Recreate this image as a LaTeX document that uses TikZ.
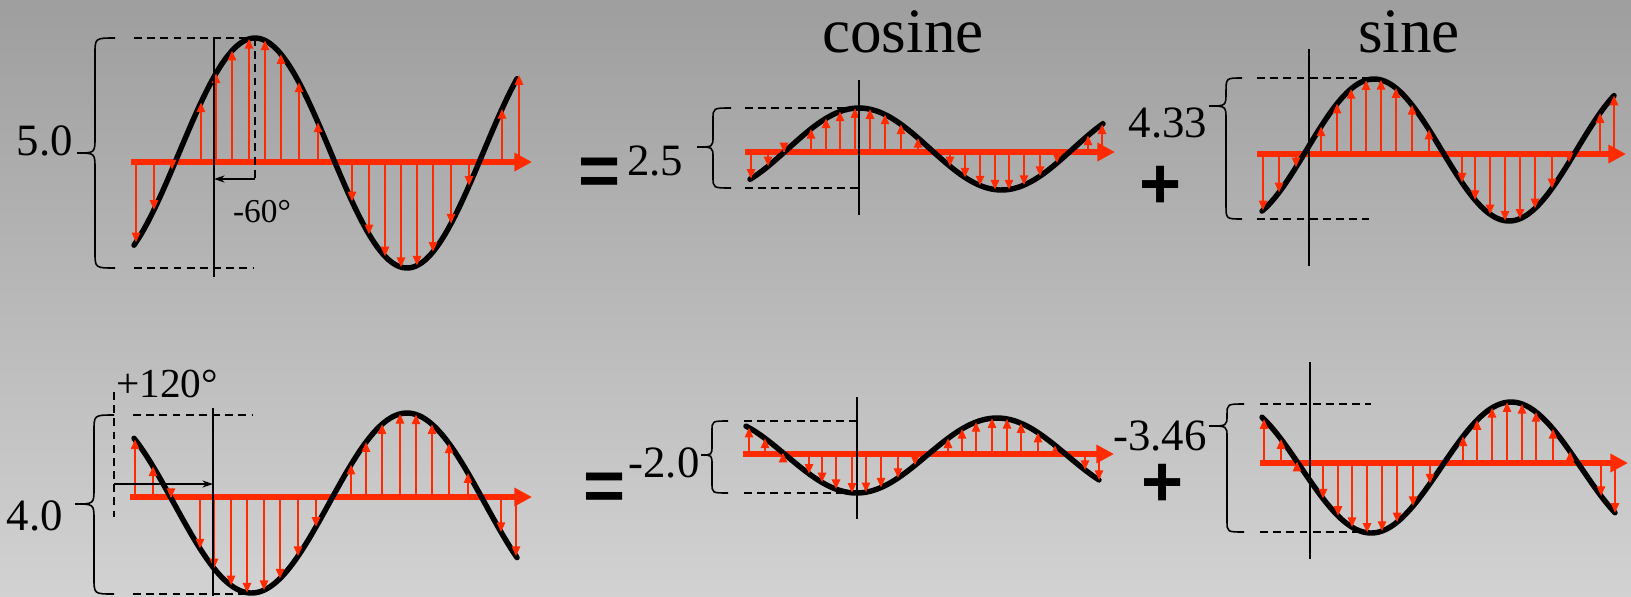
\documentclass[tikz,border=0pt]{standalone}
\usepackage{fontspec}
\setmainfont{Liberation Serif}
\newfontfamily\opfont{Liberation Sans}
\usetikzlibrary{arrows.meta}
\definecolor{wavered}{RGB}{255,42,0}
\definecolor{bgtop}{RGB}{158,158,158}
\definecolor{bgbottom}{RGB}{210,210,210}

\begin{document}
\begin{tikzpicture}[
    x=0.02cm, y=-0.02cm,
    wave/.style={line width=3.1pt, black, line cap=round, line join=round},
    axis/.style={line width=3.2pt, wavered, -{Triangle[length=10pt, width=10pt]}},
    vec/.style={line width=0.8pt, wavered, -{Triangle[length=5.5pt, width=4.8pt]}},
    guide/.style={line width=0.7pt, black, dash pattern=on 4.5pt off 3pt},
    refline/.style={line width=0.9pt, black},
    brace/.style={line width=0.9pt, black},
    shiftarr/.style={line width=0.9pt, black, -{Stealth[length=6pt, width=4pt]}},
    num/.style={font=\fontsize{25.5}{30}\selectfont, anchor=base, inner sep=0pt},
    phase/.style={num, font=\fontsize{23.5}{28}\selectfont},
    smallphase/.style={num, font=\fontsize{19}{22}\selectfont},
    heading/.style={font=\fontsize{36}{42}\selectfont, anchor=base, inner sep=0pt},
    op/.style={font=\opfont\bfseries\fontsize{41}{48}\selectfont, inner sep=0pt},
]

% Background
\shade[top color=bgtop, bottom color=bgbottom] (0,0) rectangle (1631,596);
\useasboundingbox (0,0) rectangle (1631,596);

% Headings and operators
\node[heading] (cosT) at (903,52) {cosine};
\node[heading] (sinT) at (1409,52) {sine};
\node[op] (eqTop) at (600,177) {=};
\node[op] (eqBot) at (605,492) {=};
\node[op] (plusTop) at (1161,187) {+};
\node[op] (plusBot) at (1163,485) {+};

% Amplitudes
\node[num] (ampA) at (45,155) {5.0};
\node[num] (ampB) at (655,175) {2.5};
\node[num] (ampC) at (1168,137) {4.33};
\node[num] (ampD) at (35,530) {4.0};
\node[num] (ampE) at (664,477) {-2.0};
\node[num] (ampF) at (1160,450) {-3.46};

% Braces
\foreach \xr/\xs/\xt/\yt/\yp/\yb/\r in {115/95/77/38/153/268/16, 731/713/697/108/147/188/11,
    1242/1226/1209/78/106/219/14, 114/94/75/415/504/594/16, 728/712/701/421/455/493/10,
    1244/1227/1209/404/426/532/11}
  \draw[brace] (\xr,\yt) .. controls (\xs,\yt) and (\xs,\yt) .. (\xs,\yt+\r) -- (\xs,\yp-\r)
    .. controls (\xs,\yp) and (\xs,\yp) .. (\xt,\yp) .. controls (\xs,\yp) and (\xs,\yp) .. (\xs,\yp+\r)
    -- (\xs,\yb-\r) .. controls (\xs,\yb) and (\xs,\yb) .. (\xr,\yb);

% Top left: 5.0 at -60
\draw[axis] (131,162) -- (532,162);
\draw[wave] plot[domain=134:517, samples=80, smooth] (\x,{153-115*cos((\x-255)/304*360)});
\foreach \x in {136,154,172,201,216,232,249,265,281,299,318,352,369,385,401,417,433,451,469,502,519}
  \draw[vec] (\x,162) -- (\x,{153-115*cos((\x-255)/304*360)});
\draw[guide] (134,38) -- (250,38);
\draw[guide] (134,268) -- (254,268);
\draw[guide] (255,38) -- (255,179);
\draw[refline] (214,38) -- (214,277);
\coordinate (peakA) at (255,179);
\coordinate (refA) at (214,179);
\draw[shiftarr] (peakA) -- (refA);
\node[smallphase] (lagA) at (262,222) {-60°};

% Top middle: cosine part
\draw[axis] (745,152) -- (1115,152);
\draw[wave] plot[domain=750:1103, samples=80, smooth] (\x,{149-41*cos((\x-859)/285*360)});
\foreach \x in {751,768,784,811,826,840,855,870,885,901,918,950,965,980,995,1009,1024,1040,1057,1088,1102}
  \draw[vec] (\x,152) -- (\x,{149-41*cos((\x-859)/285*360)});
\draw[guide] (745,108) -- (858,108);
\draw[guide] (745,188) -- (858,188);
\draw[refline] (859,80) -- (859,215);

% Top right: sine part
\draw[axis] (1257,154) -- (1626,154);
\draw[wave] plot[domain=1262:1614, samples=80, smooth] (\x,{150-71*cos((\x-1374)/270*360)});
\foreach \x in {1263,1279,1296,1321,1337,1351,1366,1381,1396,1412,1429,1462,1475,1490,1505,1520,1535,1552,1569,1600,1614}
  \draw[vec] (\x,154) -- (\x,{150-71*cos((\x-1374)/270*360)});
\draw[guide] (1257,78) -- (1369,78);
\draw[guide] (1257,219) -- (1369,219);
\draw[refline] (1309,49) -- (1309,266);

% Bottom left: 4.0 at +120
\draw[axis] (130,497) -- (532,497);
\draw[wave] plot[domain=134:517, samples=80, smooth] (\x,{503-90*cos((\x-407)/311*360)});
\foreach \x in {135,153,171,200,214,231,247,264,280,298,316,351,366,382,400,416,432,449,468,501,516}
  \draw[vec] (\x,497) -- (\x,{503-90*cos((\x-407)/311*360)});
\draw[guide] (133,415) -- (252,415);
\draw[guide] (133,594) -- (246,594);
\draw[guide] (114,392) -- (114,517);
\draw[refline] (213,408) -- (213,596);
\coordinate (startD) at (114,484);
\coordinate (refD) at (213,484);
\draw[shiftarr] (startD) -- (refD);
\node[phase] (leadD) at (167,397) {+120°};

% Bottom middle: cosine part
\draw[axis] (743,454) -- (1114,454);
\draw[wave] plot[domain=746:1099, samples=80, smooth] (\x,{455.5-37.5*cos((\x-997)/281*360)});
\foreach \x in {749,765,783,809,822,836,852,866,881,898,915,948,962,976,992,1007,1021,1038,1055,1085,1099}
  \draw[vec] (\x,454) -- (\x,{455.5-37.5*cos((\x-997)/281*360)});
\draw[guide] (744,421) -- (856,421);
\draw[guide] (744,493) -- (856,493);
\draw[refline] (857,397) -- (857,519);

% Bottom right: sine part
\draw[axis] (1260,463) -- (1628,463);
\draw[wave] plot[domain=1262:1615, samples=80, smooth] (\x,{467.5-65.5*cos((\x-1511)/280*360)});
\foreach \x in {1264,1281,1297,1323,1338,1352,1367,1382,1397,1413,1430,1463,1477,1492,1507,1522,1536,1553,1570,1601,1615}
  \draw[vec] (\x,463) -- (\x,{467.5-65.5*cos((\x-1511)/280*360)});
\draw[guide] (1260,404) -- (1371,404);
\draw[guide] (1260,532) -- (1367,532);
\draw[refline] (1310,362) -- (1310,559);

\end{tikzpicture}
\end{document}
